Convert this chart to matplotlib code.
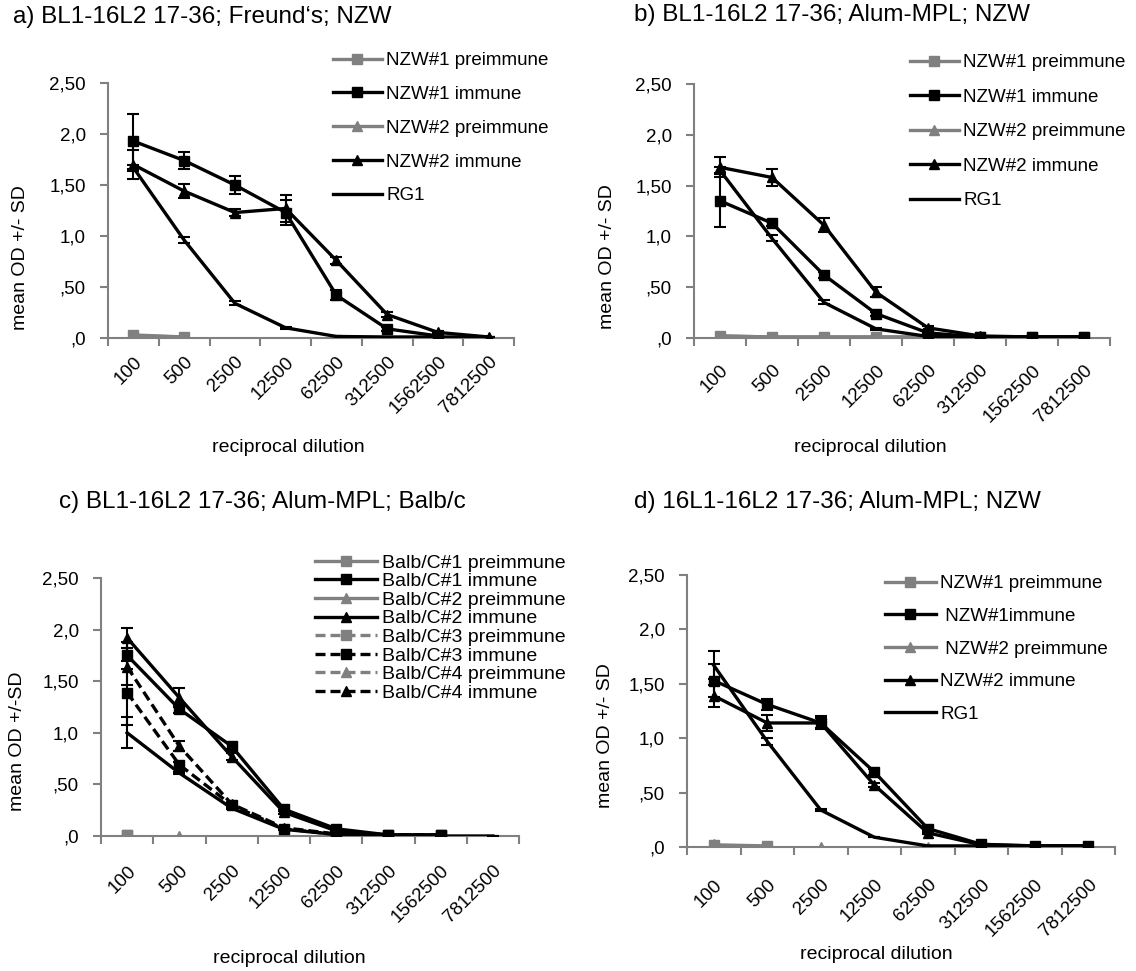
import numpy as np
import matplotlib
matplotlib.use("Agg")
import matplotlib.pyplot as plt

plt.rcParams['font.family'] = ['Liberation Sans', 'DejaVu Sans']

nan = np.nan
dilutions = ['100', '500', '2500', '12500', '62500', '312500', '1562500', '7812500']
ytick_labels = [',0', ',50', '1,0', '1,50', '2,0', '2,50']

# a) Freund's, NZW
a_pre1 = [0.03, 0.01, nan, nan, nan, nan, nan, nan]
a_imm1 = [1.93, 1.74, 1.50, 1.23, 0.42, 0.09, 0.02, nan]
a_imm1_sd = [0.27, 0.08, 0.085, 0.12, 0.05, 0.02, 0.01, 0.0]
a_pre2 = [0.02, 0.01, nan, nan, nan, nan, nan, nan]
a_imm2 = [1.70, 1.44, 1.23, 1.27, 0.76, 0.23, 0.055, 0.01]
a_imm2_sd = [0.14, 0.065, 0.03, 0.13, 0.03, 0.02, 0.01, 0.0]
a_rg1 = [1.67, 0.96, 0.34, 0.10, 0.015, 0.01, 0.01, 0.01]
a_rg1_sd = [0.03, 0.03, 0.02, 0.01, 0.0, 0.0, 0.0, 0.0]

# b) Alum-MPL, NZW
b_pre1 = [0.02, 0.01, 0.01, 0.01, 0.01, 0.01, 0.01, 0.01]
b_imm1 = [1.35, 1.13, 0.62, 0.24, 0.05, 0.01, 0.01, 0.01]
b_imm1_sd = [0.26, 0.03, 0.03, 0.02, 0.01, 0.0, 0.0, 0.0]
b_pre2 = [0.02, 0.01, 0.01, 0.01, 0.01, 0.01, 0.01, 0.01]
b_imm2 = [1.68, 1.58, 1.11, 0.45, 0.10, 0.02, 0.01, 0.01]
b_imm2_sd = [0.10, 0.08, 0.07, 0.05, 0.02, 0.0, 0.0, 0.0]
b_rg1 = [1.65, 0.98, 0.35, 0.09, 0.015, 0.01, 0.01, 0.01]
b_rg1_sd = [0.03, 0.03, 0.02, 0.01, 0.0, 0.0, 0.0, 0.0]

# c) Alum-MPL, Balb/c
c_pre1 = [0.01, nan, nan, nan, nan, nan, nan, nan]
c_imm1 = [1.75, 1.23, 0.87, 0.26, 0.07, 0.01, 0.01, nan]
c_imm1_sd = [0.13, 0.04, 0.03, 0.02, 0.01, 0.0, 0.0, 0.0]
c_pre2 = [nan, 0.0, nan, nan, nan, nan, nan, nan]
c_imm2 = [1.92, 1.34, 0.77, 0.23, 0.05, 0.01, 0.01, nan]
c_imm2_sd = [0.10, 0.09, 0.03, 0.02, 0.01, 0.0, 0.0, 0.0]
c_pre3 = [0.01, nan, nan, nan, nan, nan, nan, nan]
c_imm3 = [1.39, 0.69, 0.30, 0.07, 0.015, 0.01, 0.01, nan]
c_imm3_sd = [0.31, 0.03, 0.02, 0.01, 0.0, 0.0, 0.0, 0.0]
c_pre4 = [0.01, nan, nan, nan, nan, nan, nan, nan]
c_imm4 = [1.64, 0.87, 0.31, 0.08, 0.02, 0.01, 0.01, nan]
c_imm4_sd = [0.18, 0.05, 0.02, 0.01, 0.0, 0.0, 0.0, 0.0]
c_other = [1.0, 0.61, 0.27, 0.065, 0.015, 0.005, 0.0, 0.0]
c_other_sd = [0.15, 0.01, 0.01, 0.0, 0.0, 0.0, 0.0, 0.0]

# d) 16L1-16L2, Alum-MPL, NZW
d_pre1 = [0.02, 0.01, nan, nan, nan, nan, nan, nan]
d_imm1 = [1.53, 1.31, 1.14, 0.69, 0.17, 0.025, 0.01, 0.01]
d_imm1_sd = [0.15, 0.05, 0.06, 0.03, 0.02, 0.0, 0.0, 0.0]
d_pre2 = [0.03, nan, 0.0, nan, 0.0, nan, nan, nan]
d_imm2 = [1.39, 1.14, 1.14, 0.57, 0.13, 0.02, 0.01, 0.01]
d_imm2_sd = [0.10, 0.07, 0.05, 0.02, 0.01, 0.0, 0.0, 0.0]
d_rg1 = [1.67, 0.97, 0.34, 0.09, 0.01, 0.01, 0.01, 0.01]
d_rg1_sd = [0.13, 0.03, 0.01, 0.0, 0.0, 0.0, 0.0, 0.0]

W, H = 1136, 971
GREY = '#808080'
fig = plt.figure(figsize=(W / 100, H / 100), dpi=100)


def make_axes(left, right, top, bottom, xpad):
    ax = fig.add_axes([left / W, 1 - bottom / H, (right - left) / W, (bottom - top) / H])
    ax.set_xlim(-0.5, 7.5)
    ax.set_ylim(0, 2.5)
    for s in ['top', 'right']:
        ax.spines[s].set_visible(False)
    for s in ['left', 'bottom']:
        ax.spines[s].set_color(GREY)
        ax.spines[s].set_linewidth(1.5)
    ax.set_xticks(np.arange(-0.5, 8, 1))
    ax.set_xticklabels([])
    ax.set_xticks(np.arange(8), minor=True)
    ax.set_xticklabels(dilutions, minor=True, rotation=45, ha='right', va='top',
                       rotation_mode='anchor', fontsize=13.5)
    ax.tick_params(axis='x', which='minor', length=0, pad=xpad)
    ax.tick_params(axis='x', which='major', length=6, width=1.5, color=GREY)
    ax.set_yticks(np.arange(0, 2.51, 0.5))
    ax.set_yticklabels(ytick_labels, fontsize=13.5)
    ax.tick_params(axis='y', length=6, width=1.5, color=GREY, pad=10)
    return ax


def series(ax, y, label, marker, color='black', ls='-', sd=None, z=3):
    x = np.arange(8)
    if sd is not None:
        ax.errorbar(x, y, yerr=sd, fmt='none', ecolor='black', elinewidth=1.5,
                    capsize=4, capthick=1.5, zorder=z)
    ax.plot(x, y, color=color, ls=ls, lw=2.4, marker=marker, markersize=7.5,
            label=label, zorder=z, dashes=(3, 1.5) if ls == '--' else (None, None))


def legend(ax, x, y, fs, hl, spacing, order=None):
    h, l = ax.get_legend_handles_labels()
    if order is not None:
        h = [h[i] for i in order]
        l = [l[i] for i in order]
    ax.legend(h, l, loc='upper left', bbox_to_anchor=(x / W, 1 - y / H),
              bbox_transform=fig.transFigure, frameon=False, fontsize=fs,
              handlelength=hl, handletextpad=0.25, labelspacing=spacing,
              borderpad=0, borderaxespad=0, numpoints=1)


def labels(title, tx, ty, ylab, yx, yy, xx, xy):
    fig.text(tx / W, 1 - ty / H, title, fontsize=17.5, va='center', ha='left')
    fig.text(yx / W, 1 - yy / H, ylab, fontsize=14, rotation=90, va='center', ha='center')
    fig.text(xx / W, 1 - xy / H, 'reciprocal dilution', fontsize=14, va='center', ha='center')


# panel a
ax = make_axes(108, 514, 83, 338, 11)
series(ax, a_pre1, 'NZW#1 preimmune', 's', GREY, z=2)
series(ax, a_imm1, 'NZW#1 immune', 's', sd=a_imm1_sd)
series(ax, a_pre2, 'NZW#2 preimmune', '^', GREY, z=1.9)
series(ax, a_imm2, 'NZW#2 immune', '^', sd=a_imm2_sd)
series(ax, a_rg1, 'RG1', None, sd=a_rg1_sd)
legend(ax, 333, 52, 13.5, 2.6, 0.89)
labels('a) BL1-16L2 17-36; Freund\u2018s; NZW', 13, 17, 'mean OD +/- SD', 21, 258, 288, 447)

# panel b
ax = make_axes(694, 1110, 84, 338, 17)
series(ax, b_pre1, 'NZW#1 preimmune', 's', GREY, z=2)
series(ax, b_imm1, 'NZW#1 immune', 's', sd=b_imm1_sd)
series(ax, b_pre2, 'NZW#2 preimmune', '^', GREY, z=1.9)
series(ax, b_imm2, 'NZW#2 immune', '^', sd=b_imm2_sd)
series(ax, b_rg1, 'RG1', None, sd=b_rg1_sd)
legend(ax, 910, 54, 13.5, 2.6, 0.93)
labels('b) BL1-16L2 17-36; Alum-MPL; NZW', 634, 15, 'mean OD +/- SD', 608, 257, 870, 447)

# panel c
ax = make_axes(101, 519, 578, 836, 19)
series(ax, c_pre1, 'Balb/C#1 preimmune', 's', GREY, z=2)
series(ax, c_imm1, 'Balb/C#1 immune', 's', sd=c_imm1_sd)
series(ax, c_pre2, 'Balb/C#2 preimmune', '^', GREY, z=2.1)
series(ax, c_imm2, 'Balb/C#2 immune', '^', sd=c_imm2_sd)
series(ax, c_pre3, 'Balb/C#3 preimmune', 's', GREY, ls='--', z=1.8)
series(ax, c_imm3, 'Balb/C#3 immune', 's', ls='--', sd=c_imm3_sd)
series(ax, c_pre4, 'Balb/C#4 preimmune', '^', GREY, ls='--', z=1.7)
series(ax, c_imm4, 'Balb/C#4 immune', '^', ls='--', sd=c_imm4_sd)
series(ax, c_other, None, None, sd=c_other_sd)
legend(ax, 315, 554, 14, 3.2, 0.05)
labels('c) BL1-16L2 17-36; Alum-MPL; Balb/c', 59, 502, 'mean OD +/-SD', 18, 741, 289, 958)

# panel d
ax = make_axes(687, 1115, 575, 847, 21)
series(ax, d_pre2, ' NZW#2 preimmune', '^', GREY, z=1.9)
series(ax, d_pre1, 'NZW#1 preimmune', 's', GREY, z=2)
series(ax, d_imm1, ' NZW#1immune', 's', sd=d_imm1_sd)
series(ax, d_imm2, 'NZW#2 immune', '^', sd=d_imm2_sd)
series(ax, d_rg1, 'RG1', None, sd=d_rg1_sd)
legend(ax, 885, 575, 13.5, 2.7, 0.83, order=[1, 2, 0, 3, 4])
labels('d) 16L1-16L2 17-36; Alum-MPL; NZW', 634, 502, 'mean OD +/- SD', 606, 736, 876, 954)

fig.savefig('out.png', dpi=100)
